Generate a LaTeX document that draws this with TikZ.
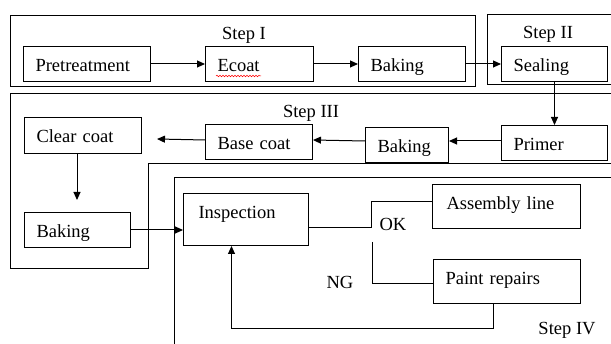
\documentclass[tikz,border=0pt]{standalone}
\usepackage{fontspec}
\setmainfont{Liberation Serif}
\usetikzlibrary{positioning, arrows.meta, decorations.pathmorphing}

\begin{document}
\begin{tikzpicture}[
    x=1pt, y=-1pt,
    node distance=40pt,
    proc/.style={draw, line width=1pt, inner xsep=12pt, inner ysep=0pt, align=left,
                 text height=25pt, text depth=10pt, font=\fontsize{18.5}{22}\selectfont},
    stepframe/.style={draw, line width=0.8pt},
    lbl/.style={font=\fontsize{18.5}{22}\selectfont, inner sep=0pt, anchor=base},
    arr/.style={-{Triangle[length=8pt, width=7pt]}, line width=1pt},
    link/.style={line width=1pt},
]
\useasboundingbox (0,0) rectangle (611,344);
\clip (0,0) rectangle (611,344);

% --- Step I / Step II ---
\node[proc, text width=103pt, anchor=north west] (pretreat) at (23,46) {Pretreatment};
\node[proc, text width=84pt, right=54pt of pretreat] (ecoat) {Ecoat};
\node[proc, text width=83pt, right=44pt of ecoat] (bake1) {Baking};
\node[proc, text width=82pt, right=35pt of bake1] (seal) {Sealing};

% --- Step III ---
\node[proc, text width=82pt, below=43pt of seal] (primer) {Primer};
\node[proc, text width=59pt, left=52pt of primer, yshift=-2pt] (bake2) {Baking};
\node[proc, text width=83pt, anchor=north west] (base) at (205,124) {Base coat};
\node[proc, text width=93pt, text depth=11pt, anchor=north west] (clear) at (24,117) {Clear coat};
\node[proc, text width=82pt, below right=58pt and 0pt of clear.south west] (bake3) {Baking};

% --- Step IV ---
\node[proc, inner xsep=15pt, text width=95pt, text depth=27pt, anchor=north west] (insp)
    at (183,193) {Inspection};
\node[proc, inner xsep=14pt, text width=120pt, text depth=19pt, anchor=north west] (asm)
    at (432,184) {Assembly line};
\node[proc, text width=123pt, text depth=19pt, anchor=north west] (paint)
    at (433,259) {Paint repairs};

% --- Labels ---
\node[lbl] (stepI) at (244,40) {Step I};
\node[lbl] (stepII) at (548,39) {Step II};
\node[lbl] (stepIII) at (311,118) {Step III};
\node[lbl] (stepIV) at (567,335) {Step IV};
\node[lbl] (ok) at (393,231) {OK};
\node[lbl] (ng) at (340,289) {NG};

% --- Arrows ---
\coordinate (cctip) at (157,139);
\coordinate (cbtip) at (77,200);
\coordinate (okturn) at (371,228);
\coordinate (ngturn) at (372,242);
\coordinate (loop) at (493,329);

\draw[arr] (pretreat) -- (ecoat);
\draw[arr] (ecoat) -- (bake1);
\draw[arr] (bake1) -- (seal);
\draw[arr] (seal) -- (primer);
\draw[arr] ([yshift=2pt]primer.west) -- ([yshift=2pt]primer.west -| bake2.east);
\draw[arr] ([yshift=2pt]bake2.west |- primer.west) -- ([yshift=2pt]base.east);
\draw[arr] ([yshift=2pt]base.west) -- (cctip);
\draw[arr] (cbtip |- clear.south) -- (cbtip);
\draw[arr] (bake3.east) -- (bake3.east -| insp.west);
\draw[link] (insp.east |- okturn) -- (okturn) |- ([yshift=5pt]asm.west);
\draw[link] (ngturn) |- ([yshift=-2pt]paint.west);
\draw[arr] (loop |- paint.south) -- (loop) -| ([xshift=-14.5pt]insp.south);

% --- spelling mark under Ecoat ---
\draw[red, line width=0.5pt, decorate, decoration={snake, amplitude=0.8pt, segment length=3pt}]
    (216,76) -- (261,76);

% --- Step frames ---
\draw[stepframe] (10,15) rectangle (475,86);
\draw[stepframe] (487,14) rectangle (620,84);
\draw[stepframe] (620,93) -- (10,93) -- (10,268) -- (148,268) -- (148,163) -- (620,163);
\draw[stepframe] (620,177) -- (174,177) -- (174,350);

\end{tikzpicture}
\end{document}
